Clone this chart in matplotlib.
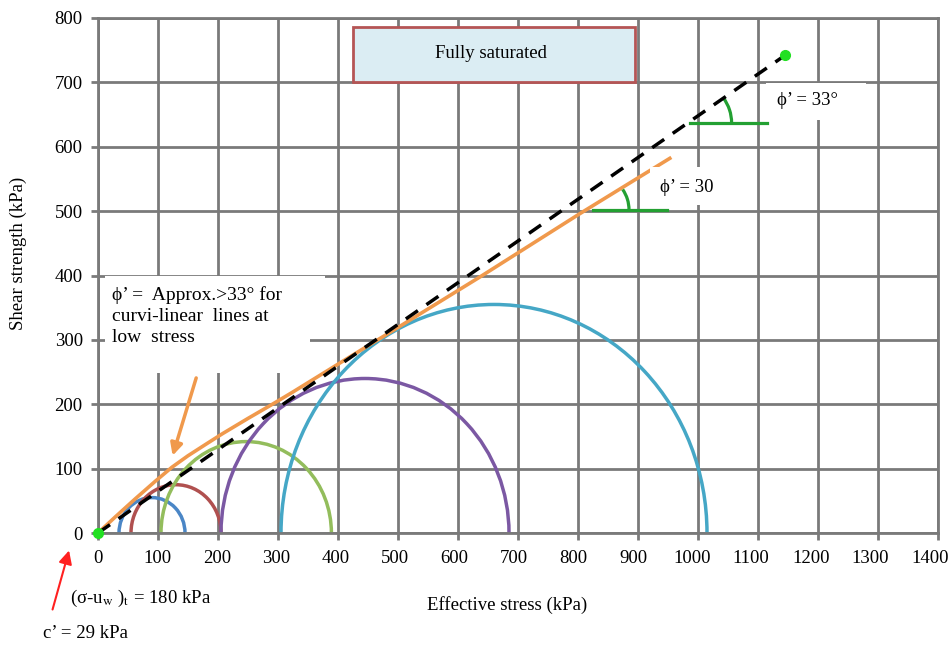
import numpy as np
import matplotlib.pyplot as plt
import matplotlib.transforms as mtransforms
from matplotlib.patches import Arc, Rectangle

plt.rcParams['font.family'] = ['Liberation Serif', 'DejaVu Serif']
plt.rcParams['mathtext.fontset'] = 'stix'

# Mohr circles (effective stress), centre and radius in kPa
circle_centres = [90, 130, 247, 445, 660]
circle_radii = [55, 75, 142, 240, 355]
circle_colors = ['#4a86c6', '#b0504f', '#93bd5c', '#7b58a3', '#45a7c6']

# curved (orange) envelope
env_x = [0, 30, 62, 95, 123, 150, 180, 207, 250, 287, 323, 403, 503, 637, 803, 953]
env_y = [0, 26, 53, 80, 102, 120, 138, 154, 178, 198, 218, 264, 321, 398, 496, 582]

# straight failure line phi' = 33
line_x = [0, 1145]
line_y = [0, 742]

xticks = np.arange(0, 1401, 100)
yticks = np.arange(0, 801, 100)

grid_c = '#7a7a7a'
fs = 13.5

fig = plt.figure(figsize=(9.5, 6.5), dpi=100)
ax = fig.add_axes([98 / 950, 1 - 533 / 650, 840 / 950, 515 / 650])
ax.set_xlim(0, 1400)
ax.set_ylim(0, 800)
ax.set_xticks(xticks)
ax.set_yticks(yticks)
ax.tick_params(colors=grid_c, labelcolor='black', length=5, width=2, labelsize=fs)
ax.tick_params(axis='x', pad=7)
ax.tick_params(axis='y', pad=6)
# the x labels drift slightly left of their ticks in the original
for i, lab in enumerate(ax.get_xticklabels()):
    shift = mtransforms.ScaledTranslation(-round(i * 0.6) / 100, 0, fig.dpi_scale_trans)
    lab.set_transform(lab.get_transform() + shift)
ax.grid(True, color=grid_c, linewidth=2)
for s in ax.spines.values():
    s.set_color(grid_c)
    s.set_linewidth(2)
ax.set_axisbelow(True)

for c, r, col in zip(circle_centres, circle_radii, circle_colors):
    ax.add_patch(Arc((c, 0), 2 * r, 2 * r, theta1=0, theta2=180, color=col, lw=2.5))

ax.plot(env_x, env_y, color='#f0994c', lw=2.6, zorder=4)
ax.plot(line_x, line_y, color='black', lw=2.5, dashes=(4.2, 3.0), zorder=5)
ax.plot(line_x, line_y, 'o', color='#22e022', ms=7, zorder=6, clip_on=False)

# angle markers (circular in pixels)
sx, sy = 0.6, 0.644
green = '#23a032'
ax.plot([986, 1115], [637, 637], color=green, lw=2.3, zorder=4)
ax.add_patch(Arc((986, 637), 2 * 42 / sx, 2 * 42 / sy, theta1=0, theta2=34.7, color=green, lw=2.3, zorder=4))
ax.plot([825, 948], [502, 502], color=green, lw=2.3, zorder=4)
ax.add_patch(Arc((825, 502), 2 * 36 / sx, 2 * 36 / sy, theta1=0, theta2=32.6, color=green, lw=2.3, zorder=4))

# text boxes
ax.add_patch(Rectangle((425, 700), 470, 86, facecolor='#dbedf3', edgecolor='#b55555', lw=2, zorder=7))
ax.text(655, 745, 'Fully saturated', ha='center', va='center', fontsize=fs, zorder=8)

ax.add_patch(Rectangle((1113, 642), 167, 57, facecolor='white', edgecolor='none', zorder=7))
ax.text(1132, 672, 'ϕ’ = 33°', ha='left', va='center', fontsize=fs, zorder=8)
ax.add_patch(Rectangle((920, 510), 115, 58, facecolor='white', edgecolor='none', zorder=7))
ax.text(937, 537, 'ϕ’ = 30', ha='left', va='center', fontsize=fs, zorder=8)

ax.add_patch(Rectangle((12, 305), 366, 95, facecolor='white', edgecolor='none', zorder=7))
ax.add_patch(Rectangle((12, 248), 341, 57, facecolor='white', edgecolor='none', zorder=7))
ax.text(23, 337, 'ϕ’ =  Approx.>33° for\ncurvi-linear  lines at\nlow  stress', ha='left', va='center',
        fontsize=14, linespacing=1.28, zorder=8)

ax.annotate('', xy=(123, 116), xytext=(165, 245),
            arrowprops=dict(arrowstyle='-|>', color='#f0994c', lw=2.5, mutation_scale=18), zorder=6)
ax.annotate('', xy=(-47, -23), xytext=(-77, -123), annotation_clip=False,
            arrowprops=dict(arrowstyle='-|>', color='#ff2020', lw=1.5,
                            mutation_scale=20))

ax.set_xlabel('Effective stress (kPa)', fontsize=fs)
ax.xaxis.set_label_coords((507 - 98) / 840, (533 - 605) / 515)
ax.xaxis.label.set_va('center')
ax.set_ylabel('Shear strength (kPa)', fontsize=fs)
ax.yaxis.set_label_coords((18 - 98) / 840, (533 - 253) / 515)
ax.yaxis.label.set_va('center')

fig.text(70 / 950, 1 - 598 / 650, r'(σ-u$_{\rm w}$ )$_{\rm t}$ = 180 kPa', ha='left', va='center', fontsize=fs)
fig.text(43 / 950, 1 - 633 / 650, 'c’ = 29 kPa', ha='left', va='center', fontsize=fs)

fig.savefig('out.png', dpi=100)
